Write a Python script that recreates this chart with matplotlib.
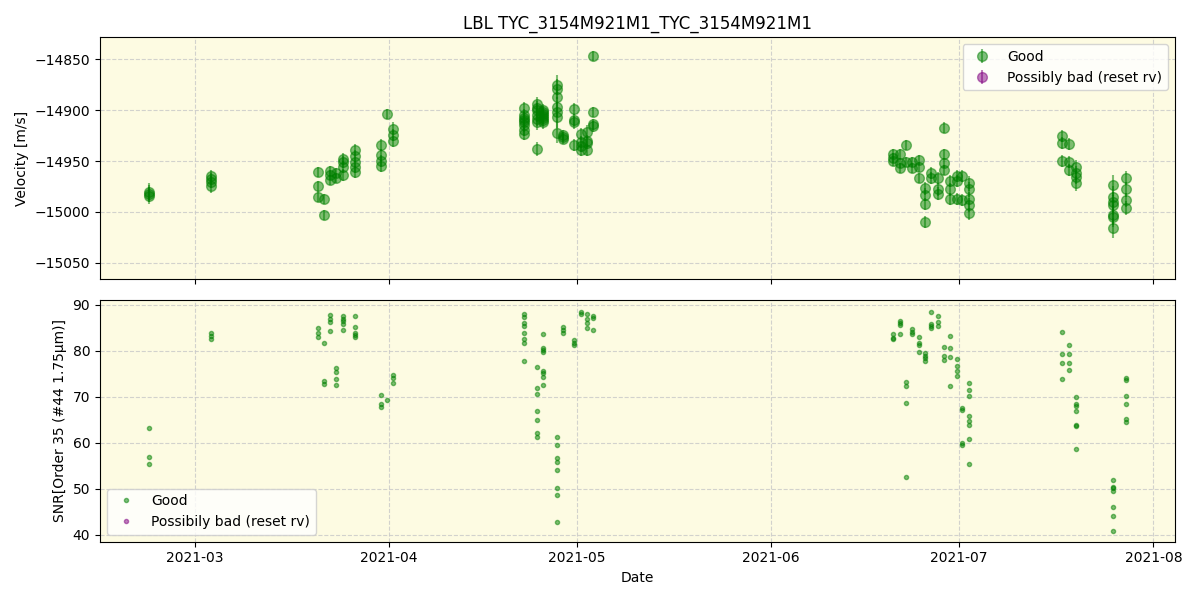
import matplotlib
matplotlib.use("Agg")
import matplotlib.pyplot as plt
import matplotlib.dates as mdates
import numpy as np
import pandas as pd

# observing nights (date + approximate hour)
nights = [
    "2021-02-21 16:00", "2021-03-03 16:00", "2021-03-20 17:00", "2021-03-21 17:00",
    "2021-03-22 14:00", "2021-03-23 14:00", "2021-03-24 17:00", "2021-03-26 14:00",
    "2021-03-30 16:00", "2021-03-31 16:00", "2021-04-01 14:00", "2021-04-22 14:00",
    "2021-04-24 16:00", "2021-04-25 15:00", "2021-04-27 18:00", "2021-04-28 17:00",
    "2021-04-30 14:00", "2021-05-01 15:00", "2021-05-02 13:00", "2021-05-03 13:00",
    "2021-06-20 11:00", "2021-06-21 12:00", "2021-06-22 14:00", "2021-06-23 13:00",
    "2021-06-24 15:00", "2021-06-25 12:00", "2021-06-26 14:00", "2021-06-27 17:00",
    "2021-06-28 14:00", "2021-06-29 14:00", "2021-06-30 17:00", "2021-07-01 11:00",
    "2021-07-02 12:00", "2021-07-17 10:00", "2021-07-18 12:00", "2021-07-19 17:00",
    "2021-07-25 14:00", "2021-07-27 14:00",
]

rv_values = [
    [-14980, -14982, -14984], [-14965, -14968, -14971, -14975],
    [-14961, -14975, -14985], [-14987, -15003],
    [-14960, -14964, -14969], [-14962, -14967],
    [-14948, -14951, -14956, -14964], [-14939, -14945, -14951, -14956, -14961],
    [-14934, -14944, -14950, -14955], [-14904],
    [-14918, -14924, -14930],
    [-14898, -14905, -14908, -14910, -14912, -14915, -14919, -14923],
    [-14894, -14898, -14900, -14905, -14909, -14912, -14938],
    [-14900, -14902, -14904, -14906, -14908, -14910, -14912],
    [-14875, -14879, -14887, -14897, -14902, -14907, -14922], [-14924, -14926, -14928],
    [-14899, -14910, -14912, -14934], [-14923, -14931, -14935, -14939],
    [-14921, -14930, -14932, -14939], [-14847, -14902, -14914, -14916],
    [-14943, -14947, -14950], [-14943, -14952, -14957],
    [-14934, -14951], [-14951, -14957],
    [-14949, -14956, -14967], [-14977, -14983, -14992, -15010],
    [-14962, -14967], [-14967, -14978, -14982],
    [-14917, -14943, -14952, -14959], [-14970, -14978, -14987],
    [-14965, -14970, -14987], [-14965, -14988],
    [-14972, -14978, -14987, -14993, -15001], [-14925, -14932, -14950],
    [-14933, -14951, -14959], [-14956, -14962, -14966, -14972],
    [-14974, -14985, -14990, -14993, -15003, -15005, -15016], [-14967, -14978, -14988, -14996],
]

rv_errors = [
    8, 6, 5, 5, 5, 5, 6, 6, 6, 5, 6, 6, 7, 6, 10, 5, 6, 6, 6, 5,
    5, 5, 5, 5, 5, 6, 6, 6, 5, 6, 6, 6, 7, 6, 6, 7, 10, 7,
]

snr_values = [
    [63.2, 56.9, 55.4], [83.8, 83.3, 82.6],
    [84.9, 83.8, 83.0], [81.7, 73.5, 72.8],
    [87.8, 87.0, 86.2, 84.3], [76.2, 75.5, 73.8, 72.6],
    [87.5, 87.0, 86.4, 85.9, 84.5], [87.5, 85.2, 84.0, 83.5, 83.0],
    [70.4, 68.4, 67.8], [69.3],
    [74.8, 74.2, 73.1], [88.0, 87.3, 86.0, 85.5, 83.8, 82.6, 81.7, 77.8],
    [76.6, 71.9, 70.6, 66.9, 64.9, 62.1, 61.2], [83.6, 80.7, 80.2, 79.8, 75.7, 75.3, 74.3, 72.5],
    [61.2, 59.5, 56.7, 55.8, 54.1, 50.2, 48.6, 42.8], [85.2, 84.6, 84.0],
    [82.4, 81.7, 81.2], [88.5, 88.0],
    [88.0, 87.0, 86.0, 84.9], [87.7, 87.2, 84.6],
    [83.6, 82.9, 82.6], [86.6, 86.0, 85.7, 83.6],
    [73.2, 72.4, 68.6, 52.5], [84.8, 84.2, 83.7],
    [83.0, 81.7, 81.2, 79.7], [79.5, 79.0, 78.4, 77.9],
    [88.4, 85.8, 85.4, 84.9], [87.7, 86.2, 85.5],
    [80.8, 78.8, 78.0], [83.2, 80.6, 78.6, 72.3],
    [78.2, 76.7, 75.6, 74.5], [67.5, 67.2, 59.9, 59.6],
    [73.0, 71.5, 70.2, 65.8, 64.7, 63.8, 60.8, 55.4], [84.1, 79.3, 77.3, 73.8],
    [81.2, 79.3, 77.3, 75.8], [69.9, 68.4, 68.0, 67.0, 63.9, 63.7, 58.6],
    [51.9, 50.4, 50.1, 49.6, 46.0, 44.0, 40.8], [74.1, 73.7, 70.3, 68.5, 65.2, 64.6],
]

title = "LBL TYC_3154M921M1_TYC_3154M921M1"


def expand(groups, per_night=None):
    """Flatten per-night lists into date / value (/ error) arrays"""
    dates, vals, errs = [], [], []
    for i, (night, g) in enumerate(zip(nights, groups)):
        t = pd.Timestamp(night)
        for v in g:
            dates.append(t)
            vals.append(v)
            if per_night is not None:
                errs.append(per_night[i])
    return dates, np.array(vals, dtype=float), np.array(errs, dtype=float)


rv_dates, rv, rv_err = expand(rv_values, rv_errors)
snr_dates, snr, _ = expand(snr_values)

bg = "#fdfbe2"

fig, (ax1, ax2) = plt.subplots(2, 1, figsize=(12, 6), dpi=100, sharex=True)

# Velocity panel
ax1.errorbar(rv_dates, rv, yerr=rv_err, fmt="o", color="green", alpha=0.5,
             markersize=7, label="Good")
ax1.errorbar([], [], yerr=[], fmt="o", color="purple", alpha=0.5,
             markersize=7, label="Possibly bad (reset rv)")
ax1.set_facecolor(bg)
ax1.set_title(title)
ax1.set_ylabel("Velocity [m/s]")
ax1.set_ylim(-15066, -14828)
ax1.grid(True, linestyle="--", color="#c8c8c8", alpha=0.8)
ax1.legend(loc="upper right")

# SNR panel
ax2.plot(snr_dates, snr, ".", color="green", alpha=0.5, markersize=6, label="Good")
ax2.plot([], [], ".", color="purple", alpha=0.5, markersize=6,
         label="Possibily bad (reset rv)")
ax2.set_facecolor(bg)
ax2.set_ylabel("SNR[Order 35 (#44 1.75μm)]")
ax2.set_xlabel("Date")
ax2.set_ylim(38.5, 91.1)
ax2.grid(True, linestyle="--", color="#c8c8c8", alpha=0.8)
ax2.legend(loc="lower left")

ax2.xaxis.set_major_locator(mdates.MonthLocator())
ax2.xaxis.set_major_formatter(mdates.DateFormatter("%Y-%m"))

plt.tight_layout()
plt.savefig("out.png", dpi=100)
